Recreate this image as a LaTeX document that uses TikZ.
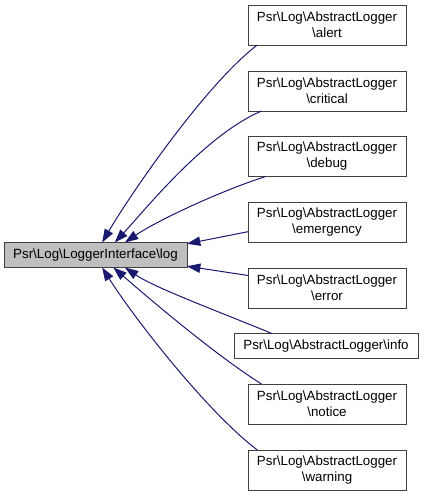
\documentclass[tikz,border=0pt]{standalone}
\usepackage{fontspec}
\setmainfont{Liberation Sans}
\usetikzlibrary{arrows.meta}
\definecolor{edgeblue}{RGB}{25,25,112}
\definecolor{nodegray}{RGB}{191,191,191}
\begin{document}
\begin{tikzpicture}[x=0.75pt,y=-0.75pt,outer sep=0pt,line width=0.75pt,
font=\fontsize{10}{12}\selectfont,
logbox/.style={draw=black!75,fill=nodegray,rectangle,minimum width=137.25pt,minimum height=18.75pt},
methodbox/.style={draw=black!75,fill=white,rectangle,align=center,minimum width=118.5pt,minimum height=30pt},
wideline/.style={draw=black!75,fill=white,rectangle,minimum width=138pt,minimum height=18.75pt},
calls/.style={draw=edgeblue,{Triangle[length=10pt,width=7pt]}-}]
\useasboundingbox (0,0) rectangle (425,496);
\draw (95.5,255) node[logbox] (log) {Psr\textbackslash Log\textbackslash LoggerInterface\textbackslash log};
\draw (327,25) node[methodbox] (alert) {Psr\textbackslash Log\textbackslash AbstractLogger\\\textbackslash alert};
\draw (327,91) node[methodbox] (critical) {Psr\textbackslash Log\textbackslash AbstractLogger\\\textbackslash critical};
\draw (327,156.5) node[methodbox] (debug) {Psr\textbackslash Log\textbackslash AbstractLogger\\\textbackslash debug};
\draw (327,222) node[methodbox] (emergency) {Psr\textbackslash Log\textbackslash AbstractLogger\\\textbackslash emergency};
\draw (327,288) node[methodbox] (error) {Psr\textbackslash Log\textbackslash AbstractLogger\\\textbackslash error};
\draw (326,346) node[wideline] (info) {Psr\textbackslash Log\textbackslash AbstractLogger\textbackslash info};
\draw (327,404) node[methodbox] (notice) {Psr\textbackslash Log\textbackslash AbstractLogger\\\textbackslash notice};
\draw (327,470) node[methodbox] (warning) {Psr\textbackslash Log\textbackslash AbstractLogger\\\textbackslash warning};

\draw[calls] (log.62) .. controls (130,195) and (205,85) .. (alert.196);
\draw[calls] (log.33) .. controls (145,210) and (205,135) .. (critical.197);
\draw[calls] (log.23) .. controls (155,222) and (215,193) .. (debug.198);
\draw[calls] (log.7) -- (emergency.187);
\draw[calls] (log.-7) -- (error.171);
\draw[calls] (log.-23) .. controls (155,288) and (220,312) .. (info.167);
\draw[calls] (log.-35) .. controls (145,295) and (215,355) .. (notice.163);
\draw[calls] (log.-62) .. controls (132,315) and (205,410) .. (warning.164);
\end{tikzpicture}
\end{document}
